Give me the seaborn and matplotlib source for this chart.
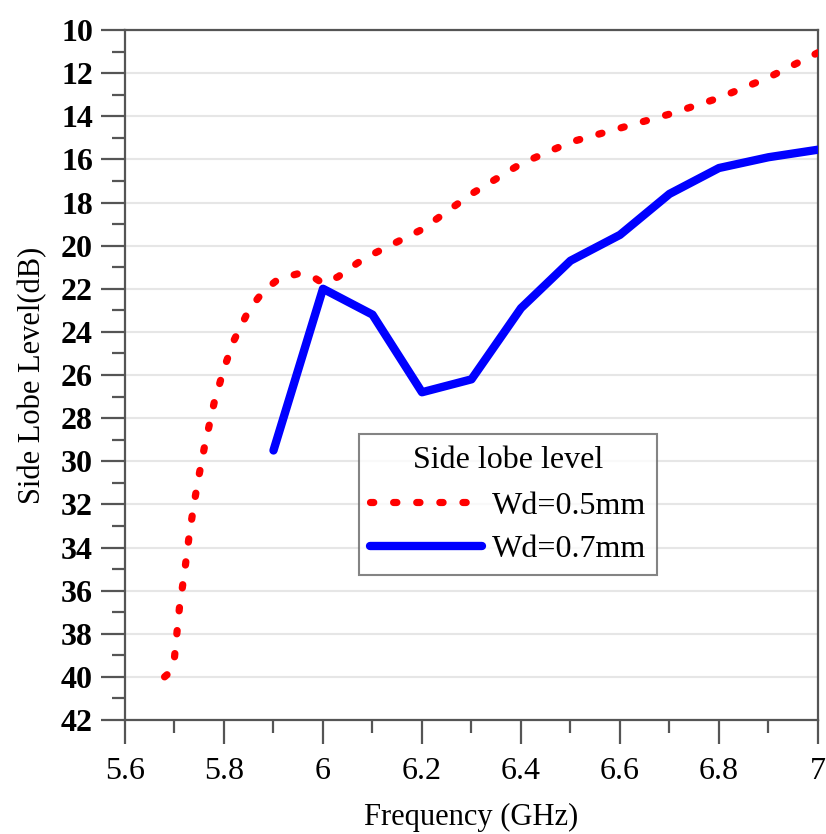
import numpy as np
import pandas as pd
import matplotlib
matplotlib.use("Agg")
import matplotlib.pyplot as plt
from matplotlib.ticker import MultipleLocator, FuncFormatter
from matplotlib.lines import Line2D
import seaborn as sns

# Side lobe level vs frequency, Wd = 0.5 mm
freq_05 = [5.68, 5.69, 5.70, 5.71, 5.72, 5.73, 5.74, 5.75, 5.76, 5.78, 5.80,
           5.82, 5.85, 5.88, 5.91, 5.95, 5.98, 6.00, 6.03, 6.07, 6.10, 6.20,
           6.30, 6.40, 6.50, 6.60, 6.70, 6.80, 6.90, 7.00]
sll_05 = [40.0, 39.8, 39.1, 36.8, 35.2, 33.4, 31.9, 30.6, 29.4, 27.3, 25.7,
          24.4, 23.0, 22.1, 21.55, 21.3, 21.45, 21.75, 21.45, 20.8, 20.4, 19.25,
          17.6, 16.2, 15.2, 14.55, 13.9, 13.15, 12.2, 11.05]

# Side lobe level vs frequency, Wd = 0.7 mm
freq_07 = [5.9, 6.0, 6.1, 6.2, 6.3, 6.4, 6.5, 6.6, 6.7, 6.8, 6.9, 7.0]
sll_07 = [29.5, 22.0, 23.2, 26.8, 26.2, 22.9, 20.7, 19.5, 17.6, 16.4, 15.9, 15.55]

series_labels = ["Wd=0.5mm", "Wd=0.7mm"]
legend_title = "Side lobe level"

df05 = pd.DataFrame({"freq": freq_05, "sll": sll_05})
df07 = pd.DataFrame({"freq": freq_07, "sll": sll_07})

sns.set_style("white")
plt.rcParams["font.family"] = ["Liberation Serif", "DejaVu Serif"]
plt.rcParams["text.color"] = "black"
plt.rcParams["axes.labelcolor"] = "black"
plt.rcParams["xtick.color"] = "black"
plt.rcParams["ytick.color"] = "black"

fig = plt.figure(figsize=(8.26, 8.34), dpi=100)
ax = fig.add_axes([0.1513, 0.1367, 0.8390, 0.8273])

red = "#ff0000"
blue = "#0000ff"
dotted = (0, (0.45, 2.75))

sns.lineplot(data=df05, x="freq", y="sll", ax=ax, color=red, lw=5.2,
             linestyle=dotted, dash_capstyle="round",
             sort=False, estimator=None, zorder=3)
sns.lineplot(data=df07, x="freq", y="sll", ax=ax, color=blue, lw=6.0,
             solid_capstyle="round", solid_joinstyle="round",
             sort=False, estimator=None, zorder=3)

ax.set_xlim(5.6, 7.0)
ax.set_ylim(42, 10)

ax.xaxis.set_major_locator(MultipleLocator(0.2))
ax.xaxis.set_minor_locator(MultipleLocator(0.1))
ax.yaxis.set_major_locator(MultipleLocator(2))
ax.yaxis.set_minor_locator(MultipleLocator(1))
ax.xaxis.set_major_formatter(FuncFormatter(lambda v, p: f"{v:g}"))
ax.yaxis.set_major_formatter(FuncFormatter(lambda v, p: f"{v:g}"))

spine_col = "#555555"
for s in ax.spines.values():
    s.set_color(spine_col)
    s.set_linewidth(1.6)

ax.tick_params(axis="both", which="both", bottom=True, left=True,
               top=False, right=False, direction="out",
               width=1.6, color=spine_col, labelcolor="black")
ax.tick_params(axis="both", which="major", length=17)
ax.tick_params(axis="both", which="minor", length=9.5)
ax.tick_params(axis="x", which="major", labelsize=23, pad=10)
ax.tick_params(axis="y", which="major", labelsize=23, pad=6)
for lab in ax.get_yticklabels():
    lab.set_fontweight("bold")

ax.grid(False)
ax.yaxis.grid(True, which="major", color="#e6e6e6", lw=1.5, zorder=0)

ax.set_xlabel("Frequency (GHz)", fontsize=22, labelpad=12)
ax.set_ylabel("Side Lobe Level(dB)", fontsize=22, labelpad=10)

handles = [
    Line2D([0], [0], color=red, lw=5.2, linestyle=dotted,
           dash_capstyle="round"),
    Line2D([0], [0], color=blue, lw=6.0, solid_capstyle="round"),
]
leg = ax.legend(handles, series_labels, title=legend_title,
                loc="upper left", bbox_to_anchor=(0.338, 0.414),
                fontsize=23, title_fontsize=23, handlelength=3.5,
                handletextpad=0.3, frameon=True, fancybox=False,
                borderpad=0.35, labelspacing=0.45, borderaxespad=0)
leg.get_frame().set_edgecolor("#666666")
leg.get_frame().set_linewidth(1.5)
leg._legend_box.sep = 12

fig.savefig("out.png", dpi=100)
